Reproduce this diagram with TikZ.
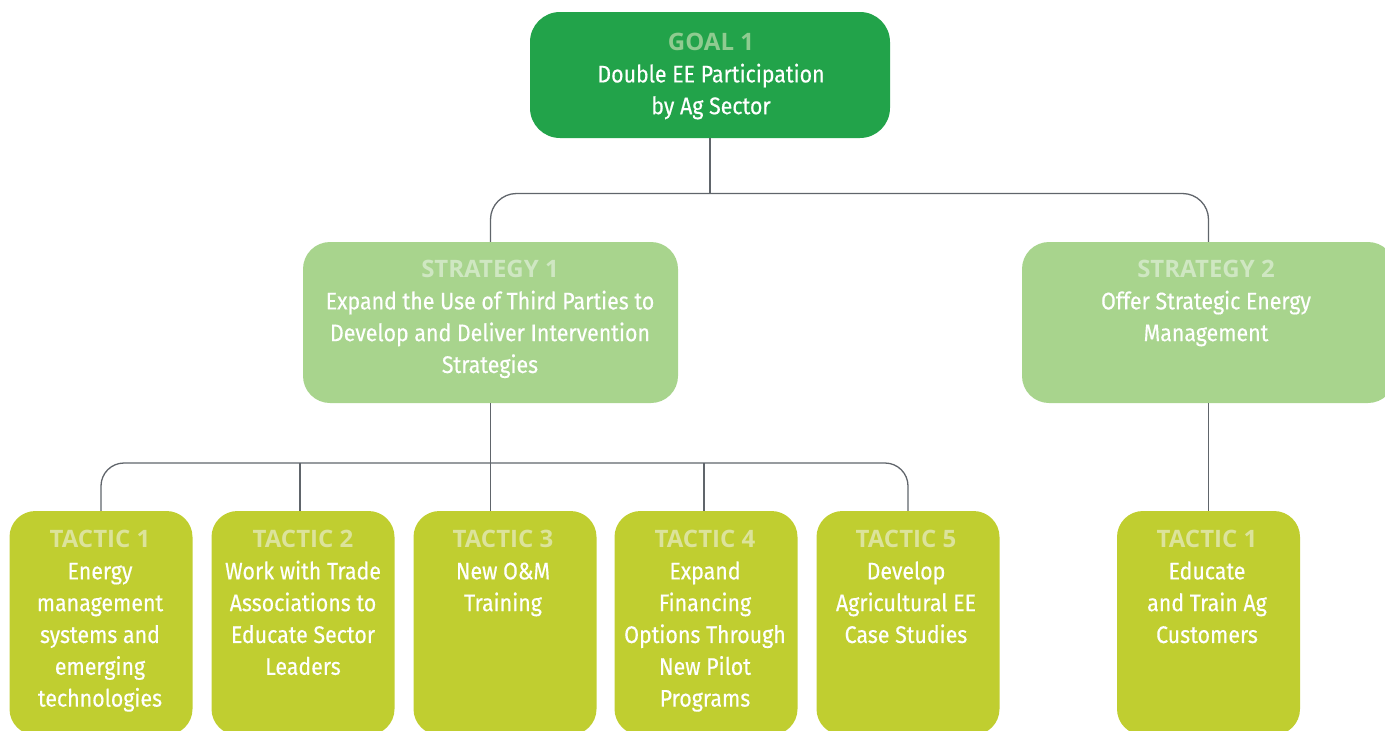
\documentclass[tikz,border=0pt]{standalone}
\usepackage{fontspec}
\setmainfont{Fira Sans}[FakeStretch=0.89, FakeBold=0.4]
\newfontfamily\ttlfont{Open Sans}
\definecolor{goalfill}{HTML}{22A34A}
\definecolor{goaltitle}{HTML}{8FCB90}
\definecolor{stratfill}{HTML}{A8D48D}
\definecolor{strattitle}{HTML}{CFE7C2}
\definecolor{tactfill}{HTML}{C0CE30}
\definecolor{tacttitle}{HTML}{DCE39B}
\definecolor{linegray}{HTML}{60656B}
\tikzset{
  boxbase/.style={draw=none, inner sep=0pt, rectangle},
  goalbox/.style={boxbase, fill=goalfill, rounded corners=30pt, minimum width=360pt, minimum height=126pt},
  stratbox/.style={boxbase, fill=stratfill, rounded corners=27pt, minimum width=375pt, minimum height=161pt},
  tactbox/.style={boxbase, fill=tactfill, rounded corners=26pt, minimum width=183pt, minimum height=224pt},
  txt/.style={text=white, align=center, inner sep=0pt, anchor=north, font=\fontsize{24}{31.8}\selectfont},
  conn/.style={draw=linegray, line width=1.3pt},
}
\newcommand{\ttl}[2]{{\ttlfont\bfseries\color{#1}#2}}
\begin{document}
\begin{tikzpicture}[x=1pt, y=-1pt]
\path[use as bounding box, clip] (0,0) rectangle (1385,731);
% boxes
\node[goalbox] (goal) at (710,75) {};
\node[stratbox] (s1) at (490.5,322.5) {};
\node[stratbox, minimum width=373pt] (s2) at (1208.5,322.5) {};
\node[tactbox] (t1) at (101,623) {};
\node[tactbox] (t2) at (303,623) {};
\node[tactbox] (t3) at (505,623) {};
\node[tactbox] (t4) at (706,623) {};
\node[tactbox] (t5) at (908,623) {};
\node[tactbox] (u1) at (1208.5,623) {};
% texts
\node[txt] (goaltxt) at (711,33) {\ttl{goaltitle}{GOAL 1}\\Double EE Participation\\by Ag Sector};
\node[txt] (s1txt) at (490,260) {\ttl{strattitle}{STRATEGY 1}\\Expand the Use of Third Parties to\\Develop and Deliver Intervention\\Strategies};
\node[txt] (s2txt) at (1206,260) {\ttl{strattitle}{STRATEGY 2}\\Offer Strategic Energy\\Management};
\node[txt] (t1txt) at (100,530) {\ttl{tacttitle}{TACTIC 1}\\Energy\\management\\systems and\\emerging\\technologies};
\node[txt] (t2txt) at (303,530) {\ttl{tacttitle}{TACTIC 2}\\Work with Trade\\Associations to\\Educate Sector\\Leaders};
\node[txt] (t3txt) at (503,530) {\ttl{tacttitle}{TACTIC 3}\\New O\&M\\Training};
\node[txt] (t4txt) at (705,530) {\ttl{tacttitle}{TACTIC 4}\\Expand\\Financing\\Options Through\\New Pilot\\Programs};
\node[txt] (t5txt) at (906,530) {\ttl{tacttitle}{TACTIC 5}\\Develop\\Agricultural EE\\Case Studies};
\node[txt] (u1txt) at (1207,530) {\ttl{tacttitle}{TACTIC 1}\\Educate\\and Train Ag\\Customers};
% connectors
\coordinate (j1) at (710,193.5);
\coordinate (j2) at (490,463);
\draw[conn] (goal.south) -- (j1);
\draw[conn, rounded corners=26pt] (s1.north) -- (s1.north |- j1) -- (s2.north |- j1) -- (s2.north);
\draw[conn] (s1.south) -- (s1.south |- t3.north);
\draw[conn, rounded corners=23pt] (t1.north) -- (t1.north |- j2) -- (t5.north |- j2) -- (t5.north);
\draw[conn] ([xshift=-3pt]t2.north |- j2) -- ([xshift=-3pt]t2.north);
\draw[conn] ([xshift=-2pt]t4.north |- j2) -- ([xshift=-2pt]t4.north);
\draw[conn] (s2.south) -- (u1.north);
\end{tikzpicture}
\end{document}
